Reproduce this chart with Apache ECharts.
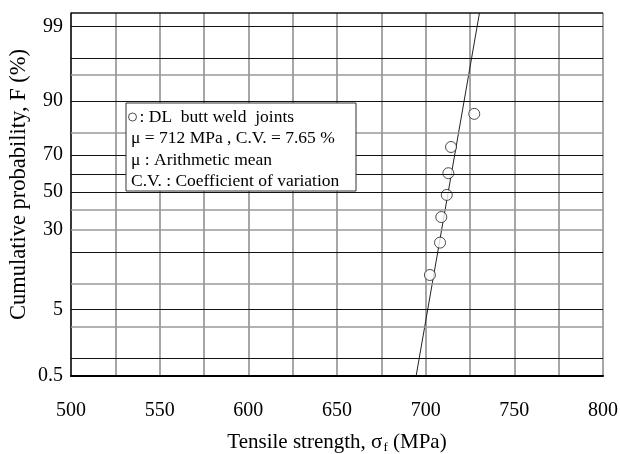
<!DOCTYPE html>
<html>
<head>
<meta charset="utf-8">
<script src="https://cdn.jsdelivr.net/npm/echarts@6/dist/echarts.min.js"></script>
<style>
  html, body { margin: 0; padding: 0; background: #fff; }
  #main { width: 620px; height: 454px; }
</style>
</head>
<body>
<div id="main"></div>
<script>
// probability axis: labelled ticks and grid lines (in %)
const yTickProbs = [0.5, 5, 30, 50, 70, 90, 99];
const darkGridProbs = [1, 5, 20, 50, 60, 70, 90, 97, 99];
const greyGridProbs = [3, 10, 30, 40, 80, 95];
const probMin = 0.5;
const probMax = 99.4;

// test results, MPa, with cumulative probability (%)
const strength = [702.4, 708.1, 708.8, 711.9, 712.8, 714.3, 727.4];
const cumProb = [12.3, 24, 36.4, 48.5, 60.5, 73.7, 86.4];

// fitted normal line
const fitMean = 712.7;
const fitStd = 7.02;

const serif = 'Liberation Serif';

// inverse of the standard normal cdf (Acklam)
function probit(pct) {
  const p = pct / 100;
  const a = [-39.69683028665376, 220.9460984245205, -275.9285104469687,
    138.357751867269, -30.66479806614716, 2.506628277459239];
  const b = [-54.47609879822406, 161.5858368580409, -155.6989798598866,
    66.80131188771972, -13.28068155288572];
  const c = [-0.007784894002430293, -0.3223964580411365, -2.400758277161838,
    -2.549732539343734, 4.374664141464968, 2.938163982698783];
  const d = [0.007784695709041462, 0.3224671290700398, 2.445134137142996,
    3.754408661907416];
  const pl = 0.02425;
  let q, r;
  if (p < pl) {
    q = Math.sqrt(-2 * Math.log(p));
    return (((((c[0] * q + c[1]) * q + c[2]) * q + c[3]) * q + c[4]) * q + c[5]) /
      ((((d[0] * q + d[1]) * q + d[2]) * q + d[3]) * q + 1);
  }
  if (p > 1 - pl) {
    q = Math.sqrt(-2 * Math.log(1 - p));
    return -(((((c[0] * q + c[1]) * q + c[2]) * q + c[3]) * q + c[4]) * q + c[5]) /
      ((((d[0] * q + d[1]) * q + d[2]) * q + d[3]) * q + 1);
  }
  q = p - 0.5;
  r = q * q;
  return (((((a[0] * r + a[1]) * r + a[2]) * r + a[3]) * r + a[4]) * r + a[5]) * q /
    (((((b[0] * r + b[1]) * r + b[2]) * r + b[3]) * r + b[4]) * r + 1);
}

const zMin = probit(probMin);
const zMax = probit(probMax);
const tickZ = yTickProbs.map(probit);

const points = strength.map((s, i) => [s, probit(cumProb[i])]);
const fitLine = [
  [fitMean + fitStd * zMin, zMin],
  [fitMean + fitStd * zMax, zMax],
];

const gridLines = []
  .concat(darkGridProbs.map(p => ({ yAxis: probit(p), lineStyle: { color: '#111', width: 1, type: 'solid' } })))
  .concat(greyGridProbs.map(p => ({ yAxis: probit(p), lineStyle: { color: '#999', width: 1.5, type: 'solid' } })));
gridLines.push({ yAxis: zMax, lineStyle: { color: '#111', width: 1.5, type: 'solid' } });

const myChart = echarts.init(document.getElementById('main'));

const option = {
  animation: false,
  backgroundColor: '#fff',
  grid: { left: 71, right: 17, top: 13, bottom: 78, outerBoundsMode: 'none' },
  legend: {
    left: 128,
    top: 108,
    padding: 0,
    z: 20,
    itemWidth: 8,
    itemHeight: 8,
    itemGap: 0,
    selectedMode: false,
    data: [{
      name: 'DL',
      icon: 'circle',
      itemStyle: { color: '#fff', borderColor: '#222', borderWidth: 1 },
    }],
    formatter: () => ': DL  butt weld  joints',
    textStyle: { fontFamily: serif, fontSize: 17.5, color: '#000', padding: [0, 0, 0, -2] },
  },
  xAxis: {
    type: 'value',
    min: 500,
    max: 800,
    interval: 25,
    axisLine: { onZero: false, lineStyle: { color: '#000', width: 2 } },
    axisTick: { show: false },
    axisLabel: {
      margin: 25,
      fontFamily: serif,
      fontSize: 20,
      color: '#000',
      showMinLabel: true,
      showMaxLabel: true,
      formatter: v => (v % 50 === 0 ? String(v) : ''),
    },
    splitLine: { show: true, lineStyle: { color: '#888', width: 1.5 } },
    name: '{a|Tensile strength, σ}{b|f}{a| (MPa)}',
    nameLocation: 'middle',
    nameGap: 56,
    nameMoveOverlap: false,
    nameTextStyle: {
      rich: {
        a: { fontFamily: serif, fontSize: 21, lineHeight: 21, color: '#000', verticalAlign: 'top' },
        b: { fontFamily: serif, fontSize: 13, lineHeight: 13, color: '#000', padding: [11, 0, 0, 1] },
      },
    },
  },
  yAxis: {
    type: 'value',
    min: zMin,
    max: zMax,
    axisLine: { show: true, onZero: false, lineStyle: { color: '#111', width: 1.5 } },
    axisTick: { show: false },
    splitLine: { show: false },
    axisLabel: {
      customValues: tickZ,
      margin: 8,
      fontFamily: serif,
      fontSize: 20,
      color: '#000',
      formatter: v => {
        let best = 0;
        tickZ.forEach((z, i) => {
          if (Math.abs(z - v) < Math.abs(tickZ[best] - v)) best = i;
        });
        return String(yTickProbs[best]);
      },
    },
    name: 'Cumulative probability, F (%)',
    nameLocation: 'middle',
    nameGap: 40,
    nameMoveOverlap: false,
    nameTextStyle: { fontFamily: serif, fontSize: 22.5, color: '#000', padding: [0, 0, 0, 20] },
  },
  series: [
    {
      name: 'grid',
      type: 'line',
      data: [],
      z: 1,
      silent: true,
      markLine: {
        silent: true,
        symbol: ['none', 'none'],
        label: { show: false },
        emphasis: { disabled: true },
        data: gridLines,
      },
    },
    {
      name: 'fit',
      type: 'line',
      data: fitLine,
      z: 3,
      silent: true,
      showSymbol: false,
      lineStyle: { color: '#222', width: 1 },
    },
    {
      name: 'DL',
      type: 'scatter',
      data: points,
      z: 4,
      symbol: 'circle',
      symbolSize: 11,
      itemStyle: { color: '#fff', borderColor: '#222', borderWidth: 1 },
    },
  ],
  graphic: [
    {
      type: 'rect',
      z: 10,
      shape: { x: 126, y: 103, width: 230, height: 88 },
      style: { fill: '#fff', stroke: '#333', lineWidth: 1 },
    },
    {
      type: 'text',
      z: 20,
      x: 131,
      y: 128,
      style: {
        text: 'μ = 712 MPa , C.V. = 7.65 %\nμ : Arithmetic mean\nC.V. : Coefficient of variation',
        font: '17.5px "Liberation Serif"',
        lineHeight: 21.5,
        fill: '#000',
      },
    },
  ],
};

myChart.setOption(option);
</script>
</body>
</html>
